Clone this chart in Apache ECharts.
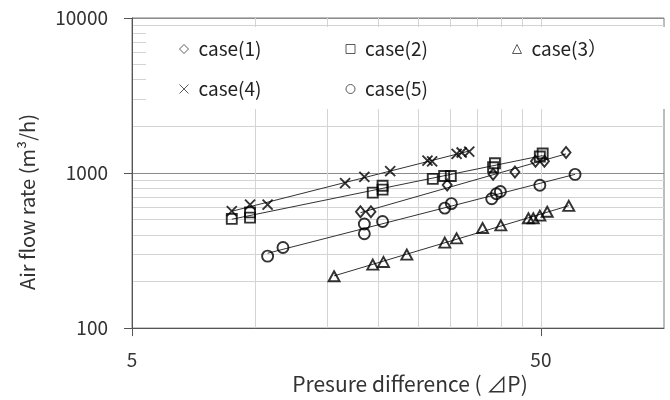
<!DOCTYPE html>
<html><head><meta charset="utf-8">
<script src="https://cdn.jsdelivr.net/npm/echarts@6/dist/echarts.min.js"></script>
<style>html,body{margin:0;padding:0;background:#fff}#c{width:670px;height:400px}</style>
</head><body><div id="c"></div>
<script>
const caseNames = ['case(1)', 'case(2)', 'case(3\uFF09', 'case(4)', 'case(5)'];
const case1X = [18.1, 19.2, 29.5, 38.2, 43.2, 48.5, 51.0, 57.6];
const case1Y = [563, 563, 837, 981, 1015, 1190, 1190, 1355];
const case2X = [8.77, 9.72, 9.72, 19.4, 20.5, 20.5, 27.2, 29.0, 30.1, 38.2, 38.6, 49.7, 50.5];
const case2Y = [506, 558, 516, 748, 782, 828, 917, 957, 957, 1091, 1156, 1279, 1336];
const case3X = [15.6, 19.4, 20.6, 23.5, 29.1, 31.1, 36.0, 39.9, 46.6, 47.9, 49.7, 51.8, 58.5];
const case3Y = [216, 257, 267, 298, 356, 379, 442, 460, 511, 511, 531, 563, 614];
const case4X = [8.77, 9.72, 10.73, 16.6, 18.5, 21.4, 26.4, 27.1, 31.1, 32.0, 33.4];
const case4Y = [568, 626, 626, 861, 944, 1029, 1203, 1190, 1330, 1356, 1375];
const case5X = [10.73, 11.7, 18.5, 18.5, 20.5, 29.1, 30.2, 37.9, 38.9, 39.8, 49.7, 60.6];
const case5Y = [291, 331, 406, 469, 487, 594, 635, 683, 735, 760, 834, 980];
const xTickLabels = [5, 50];
const yTickLabels = [100, 1000, 10000];
const xGridValues = [10, 15, 20, 25, 30, 35, 40, 45, 50];
const xTitle = 'Presure difference ( \u22BFP)';
const yTitle = 'Air flow rate (m\u00B3/h)';

const FONT = '"Noto Sans CJK JP", "Noto Sans", sans-serif';
const xs = [case1X, case2X, case3X, case4X, case5X];
const ys = [case1Y, case2Y, case3Y, case4Y, case5Y];
const symbols = ['diamond', 'rect', 'triangle', 'path://M0,0L10,10M10,0L0,10', 'circle'];
const sizes = [[9, 11], [10, 10], [11, 10], [10, 10], [11, 11]];

function zip(a, b) { return a.map((v, i) => [v, b[i]]); }
// power-law (log-log least squares) fit between smallest and largest x
function fitLine(xa, ya) {
  const lx = xa.map(Math.log10), ly = ya.map(Math.log10);
  const n = lx.length;
  const mx = lx.reduce((s, v) => s + v, 0) / n, my = ly.reduce((s, v) => s + v, 0) / n;
  let sxy = 0, sxx = 0;
  for (let i = 0; i < n; i++) { sxy += (lx[i] - mx) * (ly[i] - my); sxx += (lx[i] - mx) ** 2; }
  const b = sxy / sxx, a = my - b * mx;
  const x0 = Math.min(...xa), x1 = Math.max(...xa);
  return [[x0, Math.pow(10, a + b * Math.log10(x0))], [x1, Math.pow(10, a + b * Math.log10(x1))]];
}

const series = [];
caseNames.forEach((name, i) => {
  series.push({
    type: 'line', data: fitLine(xs[i], ys[i]), symbol: 'none', silent: true,
    lineStyle: { color: '#333', width: 1 }, z: 3, legendHoverLink: false, tooltip: { show: false }
  });
});
caseNames.forEach((name, i) => {
  series.push({
    name: name, type: 'scatter', data: zip(xs[i], ys[i]), symbol: symbols[i], symbolSize: sizes[i],
    itemStyle: { color: 'rgba(0,0,0,0)', borderColor: '#000', borderWidth: 1.9 }, z: 4
  });
});
series.push({
  type: 'line', data: [], silent: true, z: 1,
  markLine: {
    silent: true, symbol: 'none', label: { show: false }, z: 1,
    lineStyle: { color: '#d4d4d4', width: 1, type: 'solid' },
    data: xGridValues.map(v => ({ xAxis: v }))
  }
});

const chart = echarts.init(document.getElementById('c'));
chart.setOption({
  animation: false,
  backgroundColor: '#fff',
  textStyle: { fontFamily: FONT },
  grid: { left: 132, right: 6, top: 18, bottom: 64, show: true, borderColor: '#7a7a7a', borderWidth: 1, backgroundColor: 'transparent' },
  legend: {
    data: caseNames, left: 146, top: 27, width: 560, z: 10,
    padding: [12, 30, 10, 33], backgroundColor: '#fff',
    itemWidth: 9, itemHeight: 9, itemGap: 20,
    itemStyle: { borderWidth: 1, borderColor: '#333' },
    textStyle: { fontSize: 19, color: '#222', fontFamily: FONT, width: 127, lineHeight: 20, padding: [0, 0, 0, 5] }
  },
  xAxis: {
    type: 'log', logBase: 10, min: 5, max: 100,
    axisLine: { show: true, lineStyle: { color: '#555', width: 1 } },
    axisTick: { show: true, length: 8, customValues: xTickLabels, lineStyle: { color: '#555' } },
    axisLabel: { customValues: xTickLabels, fontSize: 19, margin: 22, color: '#333', fontFamily: FONT },
    splitLine: { show: false },
    name: xTitle, nameLocation: 'middle', nameGap: 41,
    nameTextStyle: { fontSize: 21, color: '#333', fontFamily: FONT, padding: [0, 0, 0, 24] }
  },
  yAxis: {
    type: 'log', logBase: 10, min: 100, max: 10000,
    axisLine: { show: true, lineStyle: { color: '#555', width: 1 } },
    axisTick: { show: true, length: 8, lineStyle: { color: '#555' } },
    axisLabel: { fontSize: 19, margin: 24, color: '#333', fontFamily: FONT, formatter: v => String(Math.round(v)) },
    splitLine: { show: true, lineStyle: { color: '#8c8c8c', width: 1 } },
    minorTick: { show: false, splitNumber: 9 },
    minorSplitLine: { show: true, lineStyle: { color: '#d4d4d4', width: 1 } },
    name: yTitle, nameLocation: 'middle', nameGap: 95,
    nameTextStyle: { fontSize: 20, color: '#333', fontFamily: FONT, padding: [0, 0, 0, -58] }
  },
  series: series
});
</script></body></html>
